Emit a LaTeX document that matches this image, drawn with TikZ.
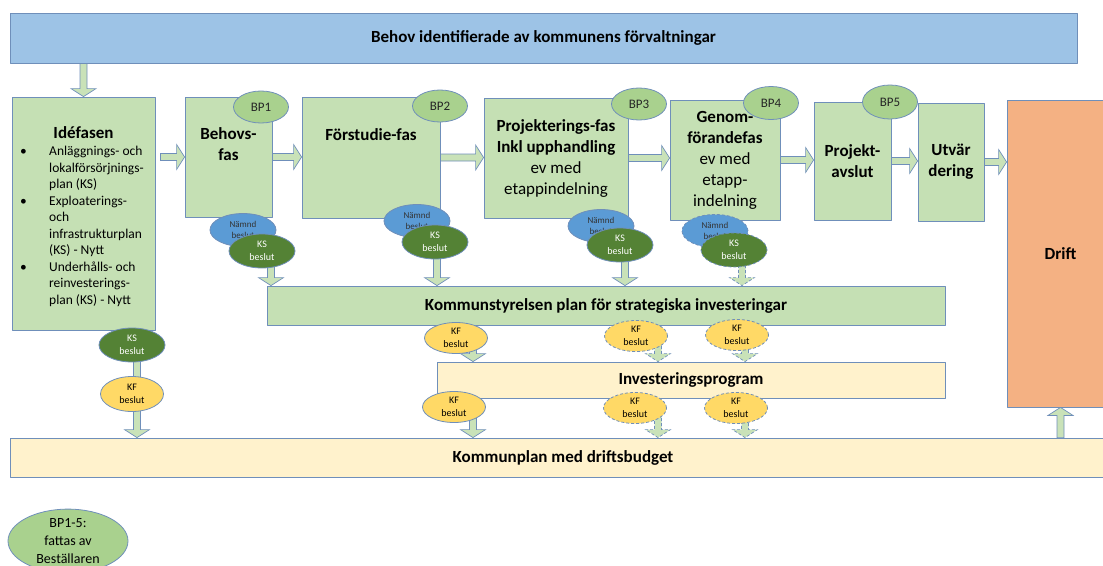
\documentclass[tikz,border=0pt]{standalone}
\usepackage{fontspec}
\setmainfont{Carlito}
\usetikzlibrary{shapes.geometric,calc,backgrounds}
\definecolor{edgeblue}{HTML}{6F8FBA}
\definecolor{topblue}{HTML}{9DC3E6}
\definecolor{phgreen}{HTML}{C5E0B4}
\definecolor{bpgreen}{HTML}{A9D18E}
\definecolor{namndblue}{HTML}{5B9BD5}
\definecolor{ksgreen}{HTML}{548235}
\definecolor{kfyellow}{HTML}{FFD966}
\definecolor{barcream}{HTML}{FFF2CC}
\definecolor{driftorange}{HTML}{F4B183}
\definecolor{arrgreen}{HTML}{C9E2B8}
\begin{document}
\begin{tikzpicture}[x=1pt, y=-1pt, line join=round,
	box/.style={draw=edgeblue, line width=0.8pt, inner sep=0pt, align=center, font=\fontsize{17}{21}\selectfont\bfseries},
	phase/.style={box, fill=phgreen},
	bar/.style={box, fill=barcream},
	phasetxt/.style={inner sep=0pt, align=center, font=\fontsize{17}{21}\selectfont\bfseries},
	oval/.style={ellipse, draw=edgeblue, line width=0.8pt, inner sep=0pt, align=center},
	bp/.style={oval, fill=bpgreen, minimum width=55pt, minimum height=32pt, font=\fontsize{13}{15}\selectfont, text=black!85},
	namnd/.style={oval, fill=namndblue, minimum width=66pt, minimum height=33pt, font=\fontsize{9}{11}\selectfont, text=black!80},
	ks/.style={oval, fill=ksgreen, minimum width=66pt, minimum height=34pt, text=white, font=\fontsize{10}{13}\selectfont},
	kf/.style={oval, fill=kfyellow, minimum width=63pt, minimum height=31pt, font=\fontsize{10}{13}\selectfont},
	prel/.style={dash pattern=on 3pt off 2pt},
	barrow/.style={draw=edgeblue, fill=arrgreen, line width=0.7pt, line join=miter,
		to path={let \p1=(\tikztostart), \p2=(\tikztotarget), \p3=($(\p2)!8pt!(\p1)$) in
			($(\p1)!3.5pt!90:(\p2)$) -- ($(\p3)!3.5pt!-90:(\p1)$) -- ($(\p3)!12.5pt!-90:(\p1)$) -- (\p2)
			-- ($(\p3)!12.5pt!90:(\p1)$) -- ($(\p3)!3.5pt!90:(\p1)$) -- ($(\p1)!3.5pt!-90:(\p2)$) -- cycle}}]
	\useasboundingbox (0,0) rectangle (1103,565);
	\clip (0,0) rectangle (1103,565);
	% top and bars
	\node[box, fill=topblue, minimum width=1067pt, minimum height=50pt] (top) at (543.5,38) {Behov identifierade av kommunens förvaltningar};
	\node[phase, minimum width=678pt, minimum height=39pt] (ksplan) at (606,305.5) {Kommunstyrelsen plan för strategiska investeringar};
	\node[bar, minimum width=508pt, minimum height=36pt] (invest) at (691,380) {Investeringsprogram};
	\node[bar, minimum width=1106pt, minimum height=39pt] (kplan) at (563,457.5) {Kommunplan med driftsbudget};
	% phases
	\node[phase, minimum width=143pt, minimum height=233pt] (idea) at (83.5,213.5) {};
	\node[phasetxt] (ideatitle) at (83.5,133) {Idéfasen};
	\node[anchor=north west, inner sep=0pt, font=\fontsize{13.5}{16.5}\selectfont] (ideatxt) at (19,144) {%
		\begin{tabular}{@{}p{30pt}@{}l@{}}
		\hspace{1pt}\textbullet & Anläggnings- och\\
		 & lokalförsörjnings-\\
		 & plan (KS)\\
		\hspace{1pt}\textbullet & Exploaterings-\\
		 & och\\
		 & infrastrukturplan\\
		 & (KS) - Nytt\\
		\hspace{1pt}\textbullet & Underhålls- och\\
		 & reinvesterings-\\
		 & plan (KS) - Nytt
		\end{tabular}};
	\node[phase, minimum width=87pt, minimum height=120pt] (behov) at (228.5,157) {};
	\node[phasetxt] (behovtxt) at (228.5,144) {Behovs-\\fas};
	\node[phase, minimum width=138pt, minimum height=121pt] (forstudie) at (371,157.5) {};
	\node[phasetxt] (forstudietxt) at (371,135) {Förstudie-fas};
	\node[phase, minimum width=144pt, minimum height=120pt] (projekt) at (556,158) {Projekterings-fas\\Inkl upphandling\\\mdseries ev med\\\mdseries etappindelning};
	\node[phase, minimum width=110pt, minimum height=120pt] (genom) at (725,160) {Genom-\\förandefas\\\mdseries ev med\\\mdseries etapp-\\\mdseries indelning};
	\node[phase, minimum width=77pt, minimum height=118pt] (avslut) at (852.5,161) {Projekt-\\avslut};
	\node[phase, minimum width=66pt, minimum height=118pt] (utv) at (951,162) {Utvär\\dering};
	\node[box, fill=driftorange, minimum width=107pt, minimum height=307pt] (drift) at (1060.5,253.5) {Drift};
	% BP markers
	\node[bp] (bp1) at (261,107) {BP1};
	\node[bp] (bp2) at (440,106) {BP2};
	\node[bp] (bp3) at (639,104) {BP3};
	\node[bp, minimum height=33pt] (bp4) at (771,103) {BP4};
	\node[bp, minimum height=34pt] (bp5) at (890,102) {BP5};
	% decisions
	\node[namnd] (namnd1) at (243,230) {Nämnd\\beslut};
	\node[ks] (ks1) at (262,251) {KS\\beslut};
	\node[namnd] (namnd2) at (417,221) {Nämnd\\beslut};
	\node[ks] (ks2) at (435,242) {KS\\beslut};
	\node[namnd] (namnd3) at (601,226) {Nämnd\\beslut};
	\node[ks] (ks3) at (620,245) {KS\\beslut};
	\node[namnd, prel] (namnd4) at (715,231) {Nämnd\\beslut};
	\node[ks, prel] (ks4) at (734,250) {KS\\beslut};
	\node[kf] (kf1) at (456,338) {KF\\beslut};
	\node[kf, prel] (kf2) at (636,336) {KF\\beslut};
	\node[kf, prel] (kf3) at (737,335) {KF\\beslut};
	\node[kf] (kf4) at (454,407) {KF\\beslut};
	\node[kf, prel] (kf5) at (635,408) {KF\\beslut};
	\node[kf, prel] (kf6) at (736,408) {KF\\beslut};
	\node[ks] (ksL) at (132,345) {KS\\beslut};
	\node[kf, minimum height=35pt] (kfL) at (132,394) {KF\\beslut};
	\node[oval, fill=bpgreen, minimum width=120pt, minimum height=62pt, font=\fontsize{14}{18}\selectfont] (bpnote) at (68,541) {BP1-5:\\fattas av\\Beställaren};
	% block arrows
	\begin{scope}[on background layer]
		\draw[barrow] (top.south -| idea.north) to (idea.north);
		\draw[barrow] ([xshift=5pt]idea.east |- behov.west) to (behov.west);
		\foreach \a/\b in {behov/forstudie, forstudie/projekt, projekt/genom, genom/avslut, avslut/utv, utv/drift}
			\draw[barrow] (\a.east) to (\a.east -| \b.west);
		\foreach \e/\s/\t in {ks1/9/ksplan, ks2/2/ksplan, ks3/5/ksplan, kf1/17/invest, kf4/19/kplan, ksL/5/kplan}
			\draw[barrow] ([xshift=\s pt]\e.center) to ([xshift=\s pt]\e.center |- \t.north);
		\foreach \e/\s/\t in {ks4/8/ksplan, kf2/22/invest, kf3/8/invest, kf5/23/kplan, kf6/9/kplan}
			\draw[barrow, prel] ([xshift=\s pt]\e.center) to ([xshift=\s pt]\e.center |- \t.north);
		\draw[barrow] (drift.south |- kplan.north) to (drift.south);
	\end{scope}
\end{tikzpicture}
\end{document}
